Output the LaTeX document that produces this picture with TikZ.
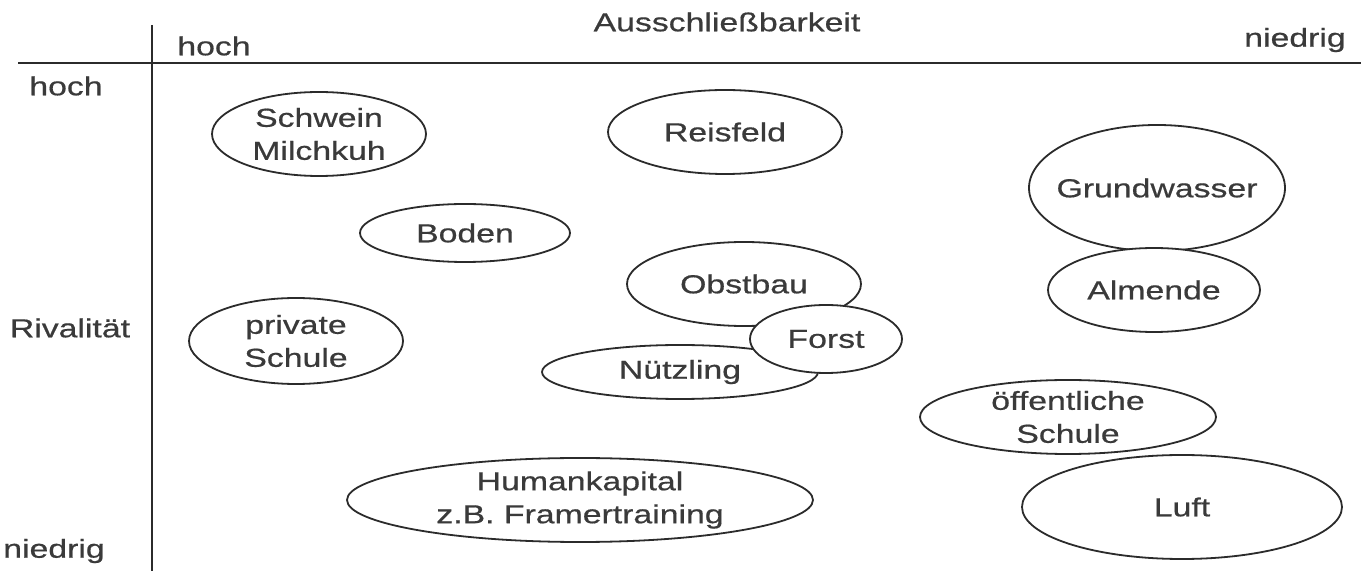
\documentclass[tikz,border=0pt]{standalone}
\usepackage{fontspec}
\setmainfont{Liberation Sans}[FakeStretch=1.3, FakeBold=0.6]
\usepackage{tikz}
\usetikzlibrary{positioning,shapes.geometric}

\definecolor{ink}{HTML}{3A3A3A}
\definecolor{lineink}{HTML}{2B2B2B}

\begin{document}
\begin{tikzpicture}[
    x=0.5pt, y=-0.5pt,
    every node/.style={text=ink, font=\fontsize{13}{16.5}\selectfont, align=center},
    good/.style 2 args={draw=lineink, line width=0.9pt, ellipse, fill=white,
        inner sep=0pt, minimum width=#1, minimum height=#2},
    axis/.style={draw=lineink, line width=1.2pt}
]
\useasboundingbox (0,0) rectangle (1361,571);

% Axes
\coordinate (hstart) at (18,63);
\coordinate (hend) at (1361,63);
\coordinate (vstart) at (152,25);
\coordinate (vend) at (152,571);
\draw[axis] (hstart) -- (hend);
\draw[axis] (vstart) -- (vend);

% Axis labels
\node (excl) at (727,22) {Ausschließbarkeit};
\node (exhigh) at (214,46) {hoch};
\node (exlow) at (1295,40) {niedrig};
\node (rivhigh) at (66,86) {hoch};
\node (riv) at (70,328) {Rivalität};
\node (rivlow) at (54,551) {niedrig};

% Top row
\node[good={107pt}{42pt}, label={center:Schwein\\Milchkuh}] (schwein) at (319,134) {};
\node[good={117pt}{42pt}, label={center:Reisfeld}] (reis) at (725,132) {};
\node[good={128pt}{63pt}, label={center:Grundwasser}] (grund) at (1157,188) {};

% Middle
\node[good={105pt}{29pt}, label={center:Boden}] (boden) at (465,233) {};
\node[good={117pt}{42pt}, label={center:Obstbau}] (obst) at (744,284) {};
\node[good={106pt}{42pt}, label={center:Almende}] (almende) at (1154,290) {};
\node[good={107pt}{43pt}, label={center:private\\Schule}] (privat) at (296,341) {};
\node[good={138pt}{27pt}, label={center:Nützling}] (nutz) at (680,372) {};
\node[good={76pt}{34pt}, label={center:Forst}] (forst) at (826,339) {};

% Bottom
\node[good={148pt}{37pt}, label={center:öffentliche\\Schule}] (oeff) at (1068,417) {};
\node[good={233pt}{42pt}, label={center:Humankapital\\z.B. Framertraining}] (human) at (580,500) {};
\node[good={160pt}{52pt}, label={center:Luft}] (luft) at (1182,507) {};

\end{tikzpicture}
\end{document}
